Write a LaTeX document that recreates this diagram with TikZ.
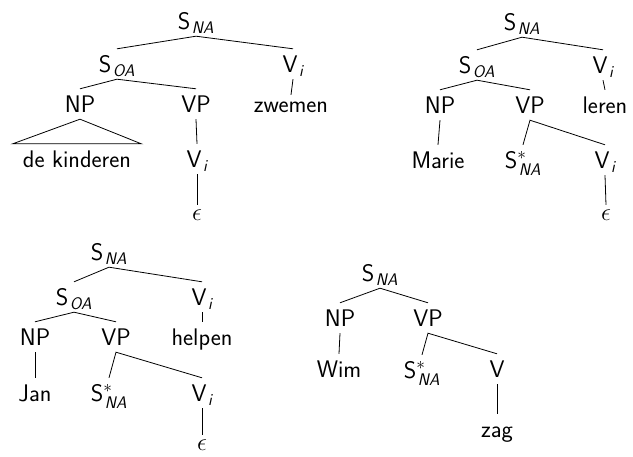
\documentclass[tikz,border=0pt]{standalone}
\usepackage{amsmath}
\usepackage{fontspec}
\newcommand\sidx[1]{\kern1.5pt\textsf{\itshape #1}}
\tikzset{
  lbl/.style={anchor=base, text height=18pt, text depth=0pt, inner ysep=6pt, inner xsep=1pt,
    font=\fontsize{24}{28}\selectfont\sffamily\addfontfeatures{LetterSpace=1}},
  eps/.style={lbl, text height=10pt},
  edge/.style={draw=black, line width=0.8pt}
}
\begin{document}
\begin{tikzpicture}[x=1pt,y=-1pt]
\useasboundingbox (0,0) rectangle (633,457);
% Tree 1
\node[lbl] (a1) at (196,30) {S$_{\sidx{NA}}$};
\node[lbl] (a2) at (117,73) {S$_{\sidx{OA}}$};
\node[lbl] (a3) at (293,73) {V$_{\sidx{i}}$};
\node[lbl] (a4) at (80,113) {NP};
\node[lbl] (a5) at (196,113) {VP};
\node[lbl, text height=12pt] (a6) at (291,113) {zwemen};
\node[lbl, inner xsep=10pt] (a7) at (77,168) {de kinderen};
\node[lbl] (a8) at (197,168) {V$_{\sidx{i}}$};
\node[eps] (a9) at (197,221) {$\epsilon$};
\draw[edge] (a2.north) -- (a1.south) -- (a3.north);
\draw[edge] (a4.north) -- (a2.south) -- (a5.north);
\draw[edge] (a3.south) -- (a6.north);
\draw[edge] (a4.south) -- (a7.north west) -- (a7.north east) -- cycle;
\draw[edge] (a5.south) -- (a8.north);
\draw[edge] (a8.south) -- (a9.north);
% Tree 2
\node[lbl] (b1) at (522,31) {S$_{\sidx{NA}}$};
\node[lbl] (b2) at (477,74) {S$_{\sidx{OA}}$};
\node[lbl] (b3) at (603,74) {V$_{\sidx{i}}$};
\node[lbl] (b4) at (440,114) {NP};
\node[lbl] (b5) at (530,114) {VP};
\node[lbl] (b6) at (605,114) {leren};
\node[lbl] (b7) at (438,169) {Marie};
\node[lbl] (b8) at (523,169) {S$^{*}_{\sidx{NA}}$};
\node[lbl] (b9) at (605,169) {V$_{\sidx{i}}$};
\node[eps] (b10) at (606,221) {$\epsilon$};
\draw[edge] (b2.north) -- (b1.south) -- (b3.north);
\draw[edge] (b4.north) -- (b2.south) -- (b5.north);
\draw[edge] (b3.south) -- (b6.north);
\draw[edge] (b4.south) -- (b7.north);
\draw[edge] (b8.north) -- (b5.south) -- (b9.north);
\draw[edge] (b9.south) -- (b10.north);
% Tree 3
\node[lbl] (c1) at (109,261) {S$_{\sidx{NA}}$};
\node[lbl] (c2) at (74,306) {S$_{\sidx{OA}}$};
\node[lbl] (c3) at (202,306) {V$_{\sidx{i}}$};
\node[lbl] (c4) at (35,346) {NP};
\node[lbl] (c5) at (116,346) {VP};
\node[lbl] (c6) at (202,346) {helpen};
\node[lbl] (c7) at (35,402) {Jan};
\node[lbl] (c8) at (109,402) {S$^{*}_{\sidx{NA}}$};
\node[lbl] (c9) at (202,402) {V$_{\sidx{i}}$};
\node[eps] (c10) at (202,451) {$\epsilon$};
\draw[edge] (c2.north) -- (c1.south) -- (c3.north);
\draw[edge] (c4.north) -- (c2.south) -- (c5.north);
\draw[edge] (c3.south) -- (c6.north);
\draw[edge] (c4.south) -- (c7.north);
\draw[edge] (c8.north) -- (c5.south) -- (c9.north);
\draw[edge] (c9.south) -- (c10.north);
% Tree 4
\node[lbl] (d1) at (380,282) {S$_{\sidx{NA}}$};
\node[lbl] (d2) at (340,327) {NP};
\node[lbl] (d3) at (428,327) {VP};
\node[lbl] (d4) at (339,378) {Wim};
\node[lbl] (d5) at (422,379) {S$^{*}_{\sidx{NA}}$};
\node[lbl] (d6) at (497,378) {V};
\node[lbl] (d7) at (497,438) {zag};
\draw[edge] (d2.north) -- (d1.south) -- (d3.north);
\draw[edge] (d2.south) -- (d4.north);
\draw[edge] (d5.north) -- (d3.south) -- (d6.north);
\draw[edge] (d6.south) -- (d7.north);
\end{tikzpicture}
\end{document}
